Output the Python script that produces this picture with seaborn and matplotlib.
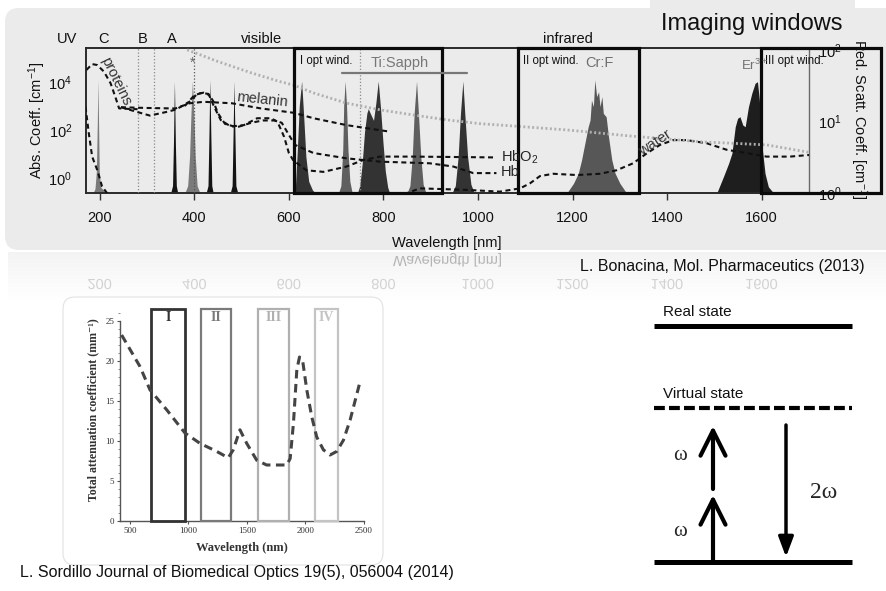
import matplotlib
matplotlib.use("Agg")
import numpy as np
import matplotlib.pyplot as plt
import seaborn as sns
from matplotlib.patches import Rectangle, FancyBboxPatch, PathPatch
from matplotlib.textpath import TextPath
from matplotlib.font_manager import FontProperties
from matplotlib.transforms import Affine2D
from matplotlib.ticker import NullLocator, MultipleLocator

# ---------------------------------------------------------------- data
# Tissue absorption coefficients (cm^-1) against wavelength (nm)
proteins_nm = [172, 184, 195, 209, 223, 234, 241, 260, 280]
proteins_abs = [3.2e4, 5.6e4, 5.1e4, 2.7e4, 8.9e3, 2.1e3, 8.0e2, 7.6e2, 7.4e2]

melanin_nm = [245, 300, 360, 390, 420, 480, 540, 611, 652, 722, 814]
melanin_abs = [8.9e2, 8.3e2, 7.9e2, 1.3e3, 1.5e3, 1.3e3, 8.0e2, 5.2e2, 3.1e2, 1.6e2, 85]

hbo2_nm = [245, 280, 306, 340, 361, 392, 406, 420, 431, 442, 456, 477, 505, 533,
           562, 576, 590, 600, 609, 637, 673, 722, 757, 793, 863, 1039]
hbo2_abs = [8.9e2, 5.6e2, 4.0e2, 5.6e2, 7.1e2, 1.6e3, 3.2e3, 3.6e3, 2.9e3, 9.3e2,
            2.6e2, 1.4e2, 1.6e2, 3.1e2, 3.1e2, 2.2e2, 52, 11, 5.6, 2.1, 1.8, 3.0,
            5.6, 7.8, 7.8, 7.2]

hb_nm = [380, 400, 415, 430, 440, 450, 465, 490, 520, 545, 570, 585, 600, 613,
         652, 722, 793, 898, 948, 990, 1039]
hb_abs = [1.0e3, 2.8e3, 3.5e3, 3.2e3, 1.6e3, 5.0e2, 1.8e2, 1.3e2, 2.0e2, 2.5e2,
          2.5e2, 2.0e2, 63, 24, 11, 6.6, 4.8, 4.1, 3.0, 1.6, 1.6]

water_nm = [170, 177, 184, 195, 205, 230, 800, 877, 976, 1046, 1089, 1110, 1131,
            1159, 1209, 1258, 1293, 1328, 1357, 1385, 1413, 1441, 1484, 1526,
            1568, 1610, 1660, 1700]
water_abs = [9.3e2, 72, 7.8, 2.1, 0.44, 0.1, 0.1, 0.37, 0.32, 0.27, 0.37, 0.6,
             1.2, 1.5, 1.33, 1.5, 2.1, 4.1, 10.7, 24, 38, 38, 28, 15, 11, 7.8,
             7.8, 9.1]

# Reduced scattering coefficient (cm^-1), right axis
scatt_nm = [385, 449, 519, 581, 611, 652, 722, 793, 863, 934, 1004, 1046, 1188,
            1328, 1469, 1610, 1700]
scatt_val = [100, 69, 48, 36, 32, 25, 18, 14.5, 12.3, 10.5, 9.3, 8.9, 7.6, 6.2,
             5.2, 4.7, 3.7]

# Laser emission spectra: (wavelength nm, relative intensity)
uv_196 = [(186, 0), (190, .03), (193, .15), (195, .5), (196, .78), (197.5, .5),
          (199, .15), (202, .04), (208, .02), (214, 0)]
uv_358 = [(350, 0), (354, .05), (356, .35), (358, .77), (360, .35), (362, .05), (365, 0)]
vis_396 = [(380, 0), (386, .05), (390, .25), (393, .55), (396, .77), (399, .55),
           (402, .25), (406, .05), (412, 0)]
vis_433 = [(425, 0), (429, .05), (431, .4), (433, .78), (435, .4), (437, .05), (440, 0)]
vis_484 = [(476, 0), (480, .05), (482, .4), (484, .77), (486, .4), (488, .05), (492, 0)]
red_627 = [(610, 0), (614, .05), (618, .3), (622, .6), (627, .77), (631, .55),
           (636, .25), (642, .08), (650, .02), (656, 0)]
ts_719 = [(705, 0), (710, .05), (714, .3), (716, .6), (719, .77), (722, .6),
          (725, .3), (729, .08), (734, 0)]
ts_780 = [(745, 0), (750, .05), (755, .2), (760, .42), (765, .55), (768, .58),
          (772, .55), (779, .5), (784, .62), (789, .77), (794, .58), (799, .35),
          (804, .15), (809, .04), (813, 0)]
ts_870 = [(850, 0), (856, .05), (861, .25), (865, .55), (870, .77), (874, .55),
          (879, .25), (884, .06), (890, 0)]
ts_968 = [(945, 0), (952, .05), (958, .25), (963, .55), (968, .77), (972, .55),
          (978, .25), (985, .06), (992, 0)]
crf_1250 = [(1188, 0), (1202, .067), (1212, .135), (1219, .227), (1226, .342),
            (1233, .456), (1237, .502), (1240, .64), (1244, .594), (1247, .778),
            (1251, .663), (1255, .697), (1258, .594), (1262, .663), (1265, .548),
            (1271, .525), (1276, .387), (1283, .227), (1290, .135), (1300, .067),
            (1314, 0)]
er_1580 = [(1505, 0), (1519, .112), (1530, .204), (1537, .273), (1544, .456),
           (1549, .514), (1554, .525), (1560, .468), (1565, .456), (1572, .594),
           (1579, .686), (1586, .755), (1591, .766), (1595, .64), (1600, .342),
           (1607, .135), (1614, .043), (1625, 0)]

x_ticks = [200, 400, 600, 800, 1000, 1200, 1400, 1600]
band_lines_nm = [280, 315, 400, 750]
region_labels = ["UV", "C", "B", "A", "visible", "infrared"]
region_label_nm = [131, 209, 291, 353, 543, 1190]
opt_windows_nm = [(611, 924), (1085, 1340), (1598, 1852)]
opt_window_labels = ["I opt wind.", "II opt wind.", "III opt wind."]
tisapph_nm = [712, 977]

# Total attenuation of tissue (mm^-1), NIR windows
att_nm = [429, 586, 671, 814, 970, 1099, 1241, 1340, 1383, 1440, 1498, 1583, 1668,
          1839, 1869, 1897, 1926, 1949, 1977, 2011, 2054, 2096, 2153, 2210, 2267,
          2324, 2381, 2466]
att_val = [23.25, 19.3, 16.4, 13.9, 11.0, 9.7, 8.7, 7.9, 8.9, 11.4, 9.7, 7.6, 7.0,
           7.0, 7.8, 12.2, 18.9, 20.5, 19.9, 16.4, 13.0, 10.5, 8.9, 8.25, 8.7,
           10.1, 12.6, 17.4]
nir_windows_nm = [(680, 970), (1105, 1360), (1595, 1860), (2080, 2280)]
nir_window_labels = ["I", "II", "III", "IV"]

# ---------------------------------------------------------------- style
sns.set_theme(style="white")
plt.rcParams["font.family"] = ["Liberation Sans", "DejaVu Sans"]
plt.rcParams["mathtext.fontset"] = "custom"
plt.rcParams["mathtext.rm"] = "Liberation Sans"
plt.rcParams["mathtext.it"] = "Liberation Sans:italic"
plt.rcParams["mathtext.bf"] = "Liberation Sans:bold"
SERIF = ["Liberation Serif", "DejaVu Serif"]
PANEL = "#ebebeb"

W, H = 887, 591
fig = plt.figure(figsize=(W / 100, H / 100), dpi=100)
fig.patch.set_facecolor("white")


def px_rect(x0, y0, x1, y1):
    return [x0 / W, 1 - y1 / H, (x1 - x0) / W, (y1 - y0) / H]


def canvas(z):
    a = fig.add_axes([0, 0, 1, 1], zorder=z)
    a.set_xlim(0, W)
    a.set_ylim(H, 0)
    a.axis("off")
    return a


under = canvas(-5)
over = canvas(10)

# slide panels
under.add_patch(FancyBboxPatch((5, 8), 910, 242, boxstyle="round,pad=0,rounding_size=14",
                               fc=PANEL, ec="none"))
under.add_patch(Rectangle((650, 0), 205, 12, fc=PANEL, ec="none"))
grad = np.zeros((60, 2, 4))
grad[..., :3] = 0.9
grad[..., 3] = np.linspace(0.45, 0.0, 60)[:, None]
under.imshow(grad, extent=(8, 887, 300, 252), aspect="auto", interpolation="bilinear", zorder=0)
under.add_patch(FancyBboxPatch((63, 297), 320, 268, boxstyle="round,pad=0,rounding_size=12",
                               fc="white", ec="#e2e2e2", lw=0.8, zorder=3))
under.set_xlim(0, W)
under.set_ylim(H, 0)

# ---------------------------------------------------------------- main spectrum panel
ax_pk = fig.add_axes(px_rect(86, 47.7, 809, 193))
ax_pk.set_facecolor(PANEL)
peaks = [(uv_196, "#7a7a7a"), (uv_358, "#141414"), (vis_396, "#7a7a7a"),
         (vis_433, "#141414"), (vis_484, "#141414"), (red_627, "#333333"),
         (ts_719, "#5f5f5f"), (ts_780, "#333333"), (ts_870, "#5f5f5f"),
         (ts_968, "#333333"), (crf_1250, "#575757"), (er_1580, "#1e1e1e")]
for pts, col in peaks:
    xs = [p[0] for p in pts]
    ys = [p[1] for p in pts]
    ax_pk.fill_between(xs, 0, ys, color=col, lw=0, zorder=2)
for nm in band_lines_nm:
    ax_pk.axvline(nm, color="#555555" if nm == 400 else "#8a8a8a", lw=0.9,
                  ls=(0, (1, 1.6)), zorder=3)
ax_pk.set_xlim(171, 1700)
ax_pk.set_ylim(0, 1)
ax_pk.set_yticks([])
ax_pk.set_xticks(x_ticks)
ax_pk.tick_params(axis="x", bottom=True, direction="out", length=5, width=1,
                  color="#333333", pad=8, labelsize=10.5, labelcolor="#111111")
for side in ["top", "left", "bottom"]:
    ax_pk.spines[side].set_color("#2a2a2a")
    ax_pk.spines[side].set_linewidth(1.4)
ax_pk.spines["right"].set_color("#6a6a6a")
ax_pk.spines["right"].set_linewidth(1.0)

ax_abs = ax_pk.twinx()
ax_abs.set_yscale("log")
dash = (0, (2.4, 1.7))
for xs, ys in [(proteins_nm, proteins_abs), (melanin_nm, melanin_abs),
               (hbo2_nm, hbo2_abs), (hb_nm, hb_abs), (water_nm, water_abs)]:
    sns.lineplot(x=xs, y=ys, ax=ax_abs, color="#111111", lw=1.5, linestyle=dash,
                 estimator=None, sort=False)
ax_abs.yaxis.tick_left()
ax_abs.set_ylim(0.237, 2.7e5)
ax_abs.set_yticks([1, 1e2, 1e4])
ax_abs.set_yticklabels(["$10^0$", "$10^2$", "$10^4$"])
ax_abs.yaxis.set_minor_locator(NullLocator())
ax_abs.tick_params(axis="y", left=True, right=False, length=0, pad=10,
                   labelsize=10.5, labelcolor="#111111")
ax_abs.set_ylabel("")
for s in ax_abs.spines.values():
    s.set_visible(False)

ax_sc = ax_pk.twinx()
ax_sc.set_yscale("log")
sns.lineplot(x=scatt_nm, y=scatt_val, ax=ax_sc, color="#b0b0b0", lw=2.0,
             linestyle=(0, (0.7, 0.9)), estimator=None, sort=False)
ax_sc.set_ylim(1, 107)
ax_sc.set_yticks([1, 10, 100])
ax_sc.set_yticklabels(["$10^0$", "$10^1$", "$10^2$"])
ax_sc.yaxis.set_minor_locator(NullLocator())
ax_sc.tick_params(axis="y", right=True, left=False, length=0, pad=6.5,
                  labelsize=10.5, labelcolor="#111111")
ax_sc.set_ylabel("")
for s in ax_sc.spines.values():
    s.set_visible(False)

xa = ax_sc.get_xaxis_transform()
for lo, hi in opt_windows_nm:
    ax_sc.add_patch(Rectangle((lo, 0), hi - lo, 1, transform=xa, fill=False,
                              ec="#0a0a0a", lw=2.3, clip_on=False, zorder=6))
ax_sc.plot(tisapph_nm, [0.828, 0.828], transform=xa, color="#777777", lw=1.6,
           clip_on=False, zorder=6)
for lab, nm in zip(region_labels, region_label_nm):
    ax_sc.text(nm, 1.012, lab, transform=xa, ha="center", va="bottom",
               fontsize=10.5, color="#111111", clip_on=False)
ax_sc.set_xlim(171, 1700)

# labels inside / around the main panel (pixel positions)
over.text(752, 24, "Imaging windows", ha="center", va="center", fontsize=17, color="#111111")
for lab, x in zip(opt_window_labels, [300, 523, 765]):
    over.text(x, 55, lab, ha="left", va="top", fontsize=8.3, color="#111111")
over.text(400, 63, "Ti:Sapph", ha="center", va="center", fontsize=10.5, color="#777777")
over.text(599, 63, "Cr:F", ha="center", va="center", fontsize=10.5, color="#707070")
over.text(741, 65, "Er$^{3+}$", ha="left", va="center", fontsize=9.5, color="#707070")
over.text(193, 63, "*", ha="center", va="center", fontsize=10, color="#666666")
over.text(116, 81, "proteins", ha="center", va="center", fontsize=10.5,
          color="#333333", rotation=-64)
over.text(262, 100, "melanin", ha="center", va="center", fontsize=10.5,
          color="#333333", rotation=-6)
over.text(655, 143, "water", ha="center", va="center", fontsize=10.5,
          color="#333333", rotation=33)
over.text(501, 157, "HbO$_2$", ha="left", va="center", fontsize=10.5, color="#222222")
over.text(501, 172, "Hb", ha="left", va="center", fontsize=10.5, color="#222222")
over.text(37, 120, "Abs. Coeff. [cm$^{-1}$]", ha="center", va="center",
          rotation=90, fontsize=10.5, color="#111111")
over.text(859, 119, "Red. Scatt. Coeff. [cm$^{-1}$]", ha="center", va="center",
          rotation=270, fontsize=10.5, color="#111111")
over.text(447, 243, "Wavelength [nm]", ha="center", va="center", fontsize=10.5,
          color="#111111")
over.text(722, 266, "L. Bonacina, Mol. Pharmaceutics (2013)", ha="center",
          va="center", fontsize=11.5, color="#111111")


# faint mirror image of the axis labels below the panel
def mirror_text(s, xc, ybase, size_px, color):
    tp = TextPath((0, 0), s, size=size_px, prop=FontProperties(family="Liberation Sans"))
    e = tp.get_extents()
    path = Affine2D().translate(xc - (e.x0 + e.x1) / 2, ybase).transform_path(tp)
    under.add_patch(PathPatch(path, fc=color, ec="none", lw=0, zorder=1))


mirror_text("Wavelength [nm]", 447, 256, 14.6, "#b4b4b4")
for t in x_ticks:
    xd, _ = ax_pk.transData.transform((t, 0))
    mirror_text(str(t), xd, 279, 14.6, "#d2d2d2")

# ---------------------------------------------------------------- attenuation panel
ax_s = fig.add_axes(px_rect(120, 309, 364, 521))
ax_s.set_facecolor("white")
sns.lineplot(x=att_nm, y=att_val, ax=ax_s, color="#444444", lw=2.2,
             linestyle=(0, (2.8, 1.8)), estimator=None, sort=False, zorder=4)
edge_cols = ["#333333", "#7a7a7a", "#b0b0b0", "#c4c4c4"]
edge_lws = [2.0, 1.6, 1.6, 1.6]
for (lo, hi), lab, ec, lw in zip(nir_windows_nm, nir_window_labels, edge_cols, edge_lws):
    ax_s.add_patch(Rectangle((lo, 0), hi - lo, 26.5, fill=False, ec=ec, lw=lw,
                             clip_on=False, zorder=3))
    ax_s.text((lo + hi) / 2, 26.2, lab, ha="center", va="top", fontsize=10,
              family=SERIF, weight="bold", color=ec)
ax_s.set_xlim(415, 2500)
ax_s.set_ylim(0, 26.5)
ax_s.set_xticks([500, 1000, 1500, 2000, 2500])
ax_s.set_yticks([0, 5, 10, 15, 20, 25])
ax_s.yaxis.set_minor_locator(MultipleLocator(1))
ax_s.tick_params(axis="both", which="major", direction="out", length=2.5, width=0.8,
                 color="#555555", pad=1.5, labelsize=6.5, labelcolor="#333333",
                 bottom=True, left=True)
ax_s.tick_params(axis="y", which="minor", direction="out", length=1.3, width=0.6,
                 color="#777777", left=True)
for lab in ax_s.get_xticklabels() + ax_s.get_yticklabels():
    lab.set_family(SERIF)
ax_s.spines["top"].set_visible(False)
ax_s.spines["right"].set_visible(False)
ax_s.spines["left"].set_bounds(0, 25)
for side in ["left", "bottom"]:
    ax_s.spines[side].set_color("#555555")
    ax_s.spines[side].set_linewidth(1.0)
ax_s.set_xlabel("")
ax_s.set_ylabel("")
over.text(242, 548, "Wavelength (nm)", ha="center", va="center", fontsize=9,
          family=SERIF, weight="bold", color="#333333")
over.text(93, 410, "Total attenuation coefficient (mm⁻¹)", ha="center", va="center",
          rotation=90, fontsize=8.6, family=SERIF, weight="bold", color="#333333")
over.text(20, 573, "L. Sordillo Journal of Biomedical Optics 19(5), 056004 (2014)",
          ha="left", va="center", fontsize=11.5, color="#111111")

# ---------------------------------------------------------------- SHG level scheme
over.plot([654, 852], [326, 326], color="black", lw=3.6, solid_capstyle="butt")
over.plot([654, 852], [408, 408], color="black", lw=3.0, ls=(0, (2.6, 1.0)),
          dash_capstyle="butt")
over.plot([654, 852], [562, 562], color="black", lw=3.6, solid_capstyle="butt")
over.text(663, 312, "Real state", ha="left", va="center", fontsize=11, color="#111111")
over.text(663, 394, "Virtual state", ha="left", va="center", fontsize=11, color="#111111")
up = dict(arrowstyle="->,head_length=1.8,head_width=0.9", lw=3.0, color="black",
          shrinkA=0, shrinkB=0, mutation_scale=10)
over.annotate("", xy=(713, 495), xytext=(713, 561), arrowprops=up)
over.annotate("", xy=(713, 426), xytext=(713, 489), arrowprops=up)
over.annotate("", xy=(786, 557), xytext=(786, 425),
              arrowprops=dict(arrowstyle="-|>,head_length=1.2,head_width=0.45",
                              lw=2.5, color="black", shrinkA=0, shrinkB=0,
                              mutation_scale=10))
over.text(680, 455, "ω", ha="center", va="center", fontsize=15, family=SERIF)
over.text(680, 532, "ω", ha="center", va="center", fontsize=15, family=SERIF)
over.text(824, 493, "2ω", ha="center", va="center", fontsize=17, family=SERIF)

fig.savefig("out.png", dpi=100, facecolor="white")
